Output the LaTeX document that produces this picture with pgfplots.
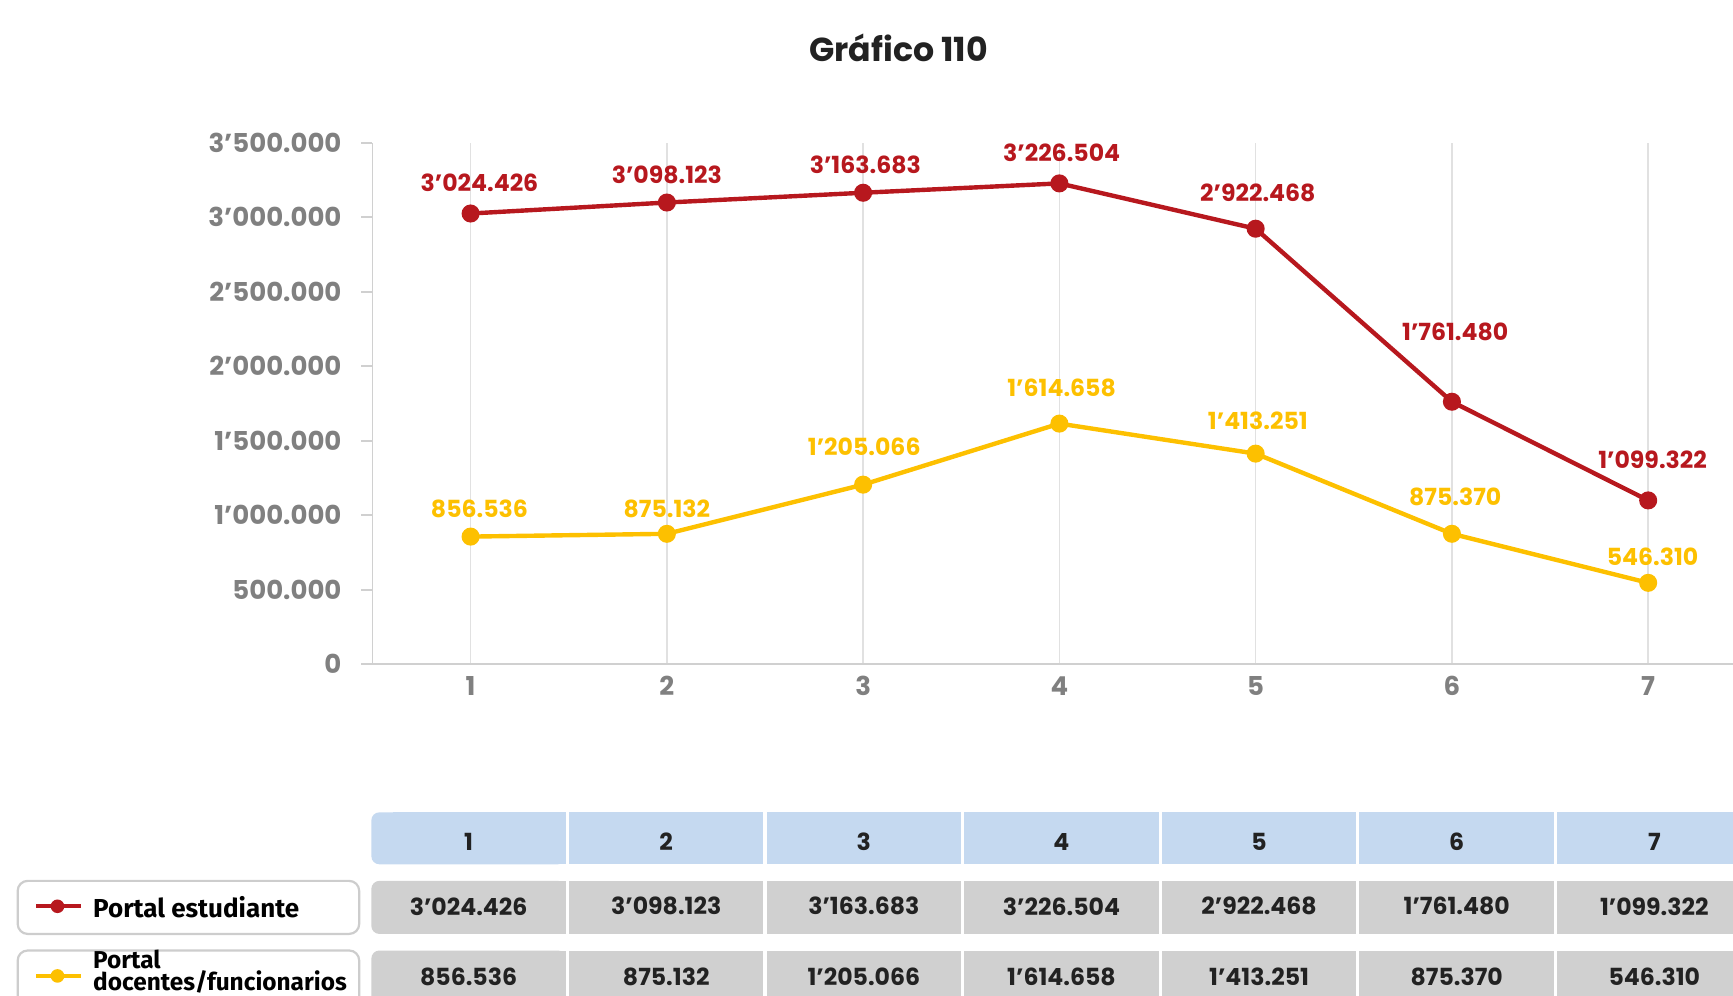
\documentclass[border=0pt]{standalone}
\usepackage{pgfplots}
\pgfplotsset{compat=1.18}
\usepackage{pgfplotstable}
\usepackage{fontspec}
\setmainfont{Poppins}
\newfontfamily\legfont{Fira Sans}
\definecolor{cred}{RGB}{183,24,30}
\definecolor{cyel}{RGB}{253,192,0}
\definecolor{tgray}{RGB}{128,128,128}
\definecolor{gridc}{RGB}{225,225,225}
\definecolor{axc}{RGB}{208,208,208}
\definecolor{hdr}{RGB}{197,217,240}
\definecolor{cellc}{RGB}{208,208,208}
\definecolor{ink}{RGB}{34,34,34}
\definecolor{lgray}{RGB}{205,205,205}

\pgfplotstableread{
x y lbl dy dx
1 3024426 3’024.426 28 8
2 3098123 3’098.123 25 0
3 3163683 3’163.683 25 2
4 3226504 3’226.504 28 2
5 2922468 2’922.468 32 2
6 1761480 1’761.480 63 3
7 1099322 1’099.322 37 4
}\estud

\pgfplotstableread{
x y lbl dy dx
1 856536 856.536 25 8
2 875132 875.132 23 0
3 1205066 1’205.066 34 1
4 1614658 1’614.658 32 2
5 1413251 1’413.251 30 2
6 875370 875.370 33 3
7 546310 546.310 24 4
}\docen

\begin{document}
\begin{tikzpicture}[x=0.5526pt,y=-0.5526pt]
\useasboundingbox (0,0) rectangle (1568,901);
\clip (0,0) rectangle (1568,901);
\node[font=\bfseries\fontsize{16.6}{19}\selectfont, text=ink] at (813,43) {Gráfico 110};
\begin{axis}[
  at={(186.23pt,-332.11pt)}, anchor=south west,
  width=686.9pt, height=260.8pt, scale only axis,
  xmin=0.5, xmax=7.5, ymin=0, ymax=3500000,
  axis lines*=left,
  axis line style={draw=axc, line width=0.9pt},
  tick align=outside,
  major tick length=5.5pt,
  xtick={1,...,7},
  xticklabels={1,2,3,4,5,6,7},
  xmajorgrids,
  major x grid style={draw=gridc, line width=0.8pt},
  x tick style={draw=none},
  extra x ticks={0.5,1.5,...,7.5},
  extra x tick labels={},
  extra x tick style={grid=none, tick style={draw=axc, line width=0.9pt}, major tick length=6pt},
  ytick={0,500000,...,3500000},
  yticklabels={0,500.000,1’000.000,1’500.000,2’000.000,2’500.000,3’000.000,3’500.000},
  y tick style={draw=axc, line width=0.9pt},
  ticklabel style={font=\bfseries\fontsize{13}{15}\selectfont, text=tgray},
  yticklabel style={xshift=-6.5pt},
  xticklabel style={yshift=3pt},
  scaled y ticks=false,
  clip=false,
]
\addplot[cyel, line width=2.2pt, mark=*, mark size=3.4pt,
  point meta=explicit symbolic, nodes near coords,
  visualization depends on={\thisrow{dy} \as \dy},
  visualization depends on={\thisrow{dx} \as \dx},
  nodes near coords style={anchor=center, font=\bfseries\fontsize{11.8}{13}\selectfont, text=cyel, xshift=\dx*0.5526pt, yshift=\dy*0.5526pt}]
  table[x=x, y=y, meta=lbl] {\docen};
\addplot[cred, line width=2.2pt, mark=*, mark size=3.4pt,
  point meta=explicit symbolic, nodes near coords,
  visualization depends on={\thisrow{dy} \as \dy},
  visualization depends on={\thisrow{dx} \as \dx},
  nodes near coords style={anchor=center, font=\bfseries\fontsize{11.8}{13}\selectfont, text=cred, xshift=\dx*0.5526pt, yshift=\dy*0.5526pt}]
  table[x=x, y=y, meta=lbl] {\estud};
\end{axis}

% table
\foreach \i/\h/\a/\b in {0/1/3’024.426/856.536, 1/2/3’098.123/875.132, 2/3/3’163.683/1’205.066, 3/4/3’226.504/1’614.658, 4/5/2’922.468/1’413.251, 5/6/1’761.480/875.370, 6/7/1’099.322/546.310} {
  \pgfmathsetmacro\xa{336+\i*178.8}
  \pgfmathsetmacro\xb{\xa+176}
  \pgfmathsetmacro\xc{\xa+88}
  \ifnum\i=0
    \fill[hdr, rounded corners=4pt] (\xa,735) rectangle (\xb,782);
    \fill[cellc, rounded corners=4pt] (\xa,797) rectangle (\xb,845);
    \fill[cellc, rounded corners=4pt] (\xa,860) rectangle (\xb,920);
    \fill[hdr] (\xa+20,735) rectangle (\xb,782);
    \fill[cellc] (\xa+20,797) rectangle (\xb,845);
    \fill[cellc] (\xa+20,860) rectangle (\xb,920);
  \else
    \fill[hdr] (\xa,735) rectangle (\xb,782);
    \fill[cellc] (\xa,797) rectangle (\xb,845);
    \fill[cellc] (\xa,860) rectangle (\xb,920);
  \fi
  \node[font=\bfseries\fontsize{11.8}{13}\selectfont, text=ink] at (\xc,762) {\h};
  \node[font=\bfseries\fontsize{11.8}{13}\selectfont, text=ink] at (\xc,820) {\a};
  \node[font=\bfseries\fontsize{11.8}{13}\selectfont, text=ink] at (\xc,884) {\b};
}

% legend boxes
\draw[draw=lgray, line width=1.1pt, fill=white, rounded corners=5pt] (16,797) rectangle (325,845);
\draw[draw=lgray, line width=1.1pt, fill=white, rounded corners=5pt] (16,860) rectangle (325,930);
\draw[cred, line width=2.2pt] (33,820) -- (73,820);
\fill[cred] (52,820) circle (3.4pt);
\draw[cyel, line width=2.2pt] (33,883) -- (73,883);
\fill[cyel] (52,883) circle (3.4pt);
\node[anchor=west, inner sep=0pt, font=\legfont\bfseries\fontsize{13}{15}\selectfont, text=black] at (84,821) {Portal estudiante};
\node[anchor=west, inner sep=0pt, align=left, font=\legfont\bfseries\fontsize{12.2}{9}\selectfont, text=black] at (84,879) {Portal\\docentes/funcionarios};
\end{tikzpicture}
\end{document}
